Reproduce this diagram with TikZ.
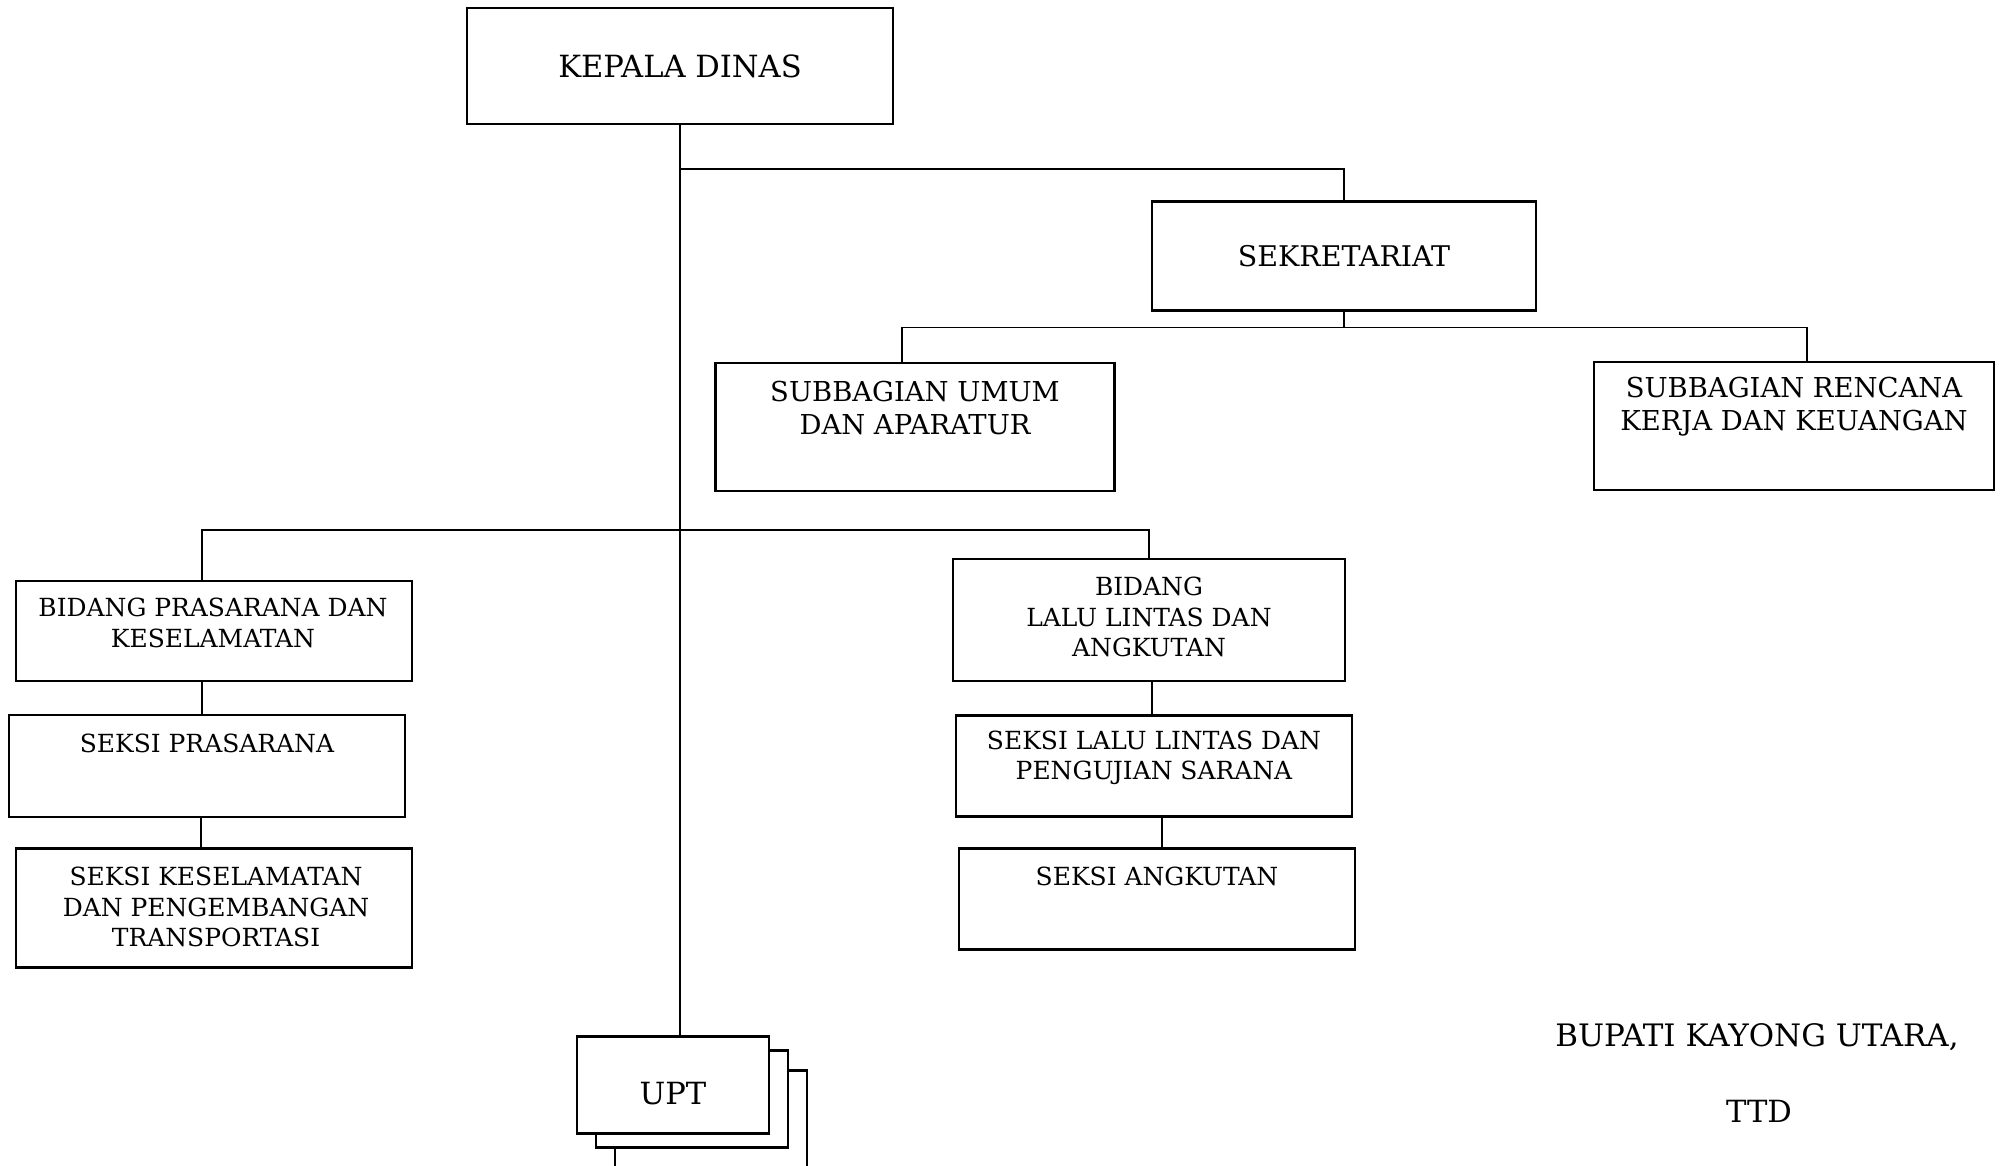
\documentclass[tikz,border=0pt]{standalone}
\usepackage{fontspec}
\setmainfont{DejaVu Serif}
\usetikzlibrary{calc,positioning}

\begin{document}
\begin{tikzpicture}[x=0.1mm, y=-0.1mm,
            box/.style={draw, line width=0.6pt, fill=white, inner sep=0pt},
            big/.style={font=\fontsize{8.7}{9.4}\selectfont, align=center},
            mid/.style={font=\fontsize{7.8}{9.4}\selectfont, align=center},
            small/.style={font=\fontsize{7.1}{8.7}\selectfont, align=center},
            link/.style={line width=0.5pt}]
  \useasboundingbox (0,0) rectangle (2003,1166);
  % kepala dan sekretariat
  \node[box, big, minimum width=42.6mm, minimum height=11.6mm] (kepala) at (680,66) {KEPALA DINAS};
  \node[box, font=\fontsize{8.1}{9.4}\selectfont, minimum width=38.4mm, minimum height=10.9mm] (sekretariat) at (1344,256) {SEKRETARIAT};
  \node[box, minimum width=39.9mm, minimum height=12.8mm] (subumum) at (915,427) {};
  \node[mid] (subumumtxt) at (915,408) {SUBBAGIAN UMUM\\DAN APARATUR};
  \node[box, minimum width=40mm, minimum height=12.8mm] (subrencana) at (1794,426) {};
  \node[mid] (subrencanatxt) at (1794,407) {SUBBAGIAN RENCANA\\KERJA DAN KEUANGAN};
  % bidang prasarana
  \node[box, minimum width=39.6mm, minimum height=10mm] (bidprasarana) at (214,631) {};
  \node[small] (bidprasaranatxt) at (213,623) {BIDANG PRASARANA DAN\\KESELAMATAN};
  \node[box, minimum width=39.6mm, minimum height=10.2mm] (seksiprasarana) at (207,766) {};
  \node[small] (seksiprasaranatxt) at (207,743) {SEKSI PRASARANA};
  \node[box, minimum width=39.6mm, minimum height=11.9mm] (seksikeselamatan) at (214,908) {};
  \node[small] (seksikeselamatantxt) at (216,907) {SEKSI KESELAMATAN\\DAN PENGEMBANGAN\\TRANSPORTASI};
  % bidang lalu lintas
  \node[box, minimum width=39.2mm, minimum height=12.2mm] (bidlalin) at (1149,620) {};
  \node[small] (bidlalintxt) at (1149,617) {BIDANG\\LALU LINTAS DAN\\ANGKUTAN};
  \node[box, minimum width=39.6mm, minimum height=10.1mm] (seksilalin) at (1154,766) {};
  \node[small] (seksilalintxt) at (1154,758) {SEKSI LALU LINTAS DAN\\PENGUJIAN SARANA};
  \node[box, minimum width=39.6mm, minimum height=10.1mm] (seksiangkutan) at (1157,899) {};
  \node[small] (seksiangkutantxt) at (1157,876) {SEKSI ANGKUTAN};
  % upt
  \node[box, minimum width=19.2mm, minimum height=9.7mm] (upt3) at (711,1119) {};
  \node[box, minimum width=19.2mm, minimum height=9.7mm] (upt2) at (692,1099) {};
  \node[box, minimum width=19.2mm, minimum height=9.7mm] (upt) at (673,1085) {};
  \node[big] (upttxt) at (673,1094) {UPT};
  % tanda tangan
  \node[big, font=\fontsize{8.8}{9.4}\selectfont] (bupati) at (1757,1037) {BUPATI KAYONG UTARA,};
  \node[big] (ttd) at (1759,1111) {TTD};
  % garis
  \draw[link] (kepala.south) -- (kepala.south |- upt.north);
  \draw[link] (kepala.south) ++(0,44) -| (sekretariat.north);
  \draw[link] (sekretariat.south) -- ++(0,16) coordinate (sekbar) -| ([xshift=-1.3mm]subumum.north);
  \draw[link] (sekbar) -| ([xshift=1.3mm]subrencana.north);
  \draw[link] ([xshift=-1.2mm]bidprasarana.north) -- ++(0,-50) -| (bidlalin.north);
  \draw[link] ([xshift=-1.2mm]bidprasarana.south) -- ++(0,34);
  \draw[link] ([xshift=-0.6mm]seksiprasarana.south) -- ++(0,32);
  \draw[link] ([xshift=0.3mm]bidlalin.south) -- ++(0,35);
  \draw[link] ([xshift=0.8mm]seksilalin.south) -- ++(0,32);
\end{tikzpicture}
\end{document}
